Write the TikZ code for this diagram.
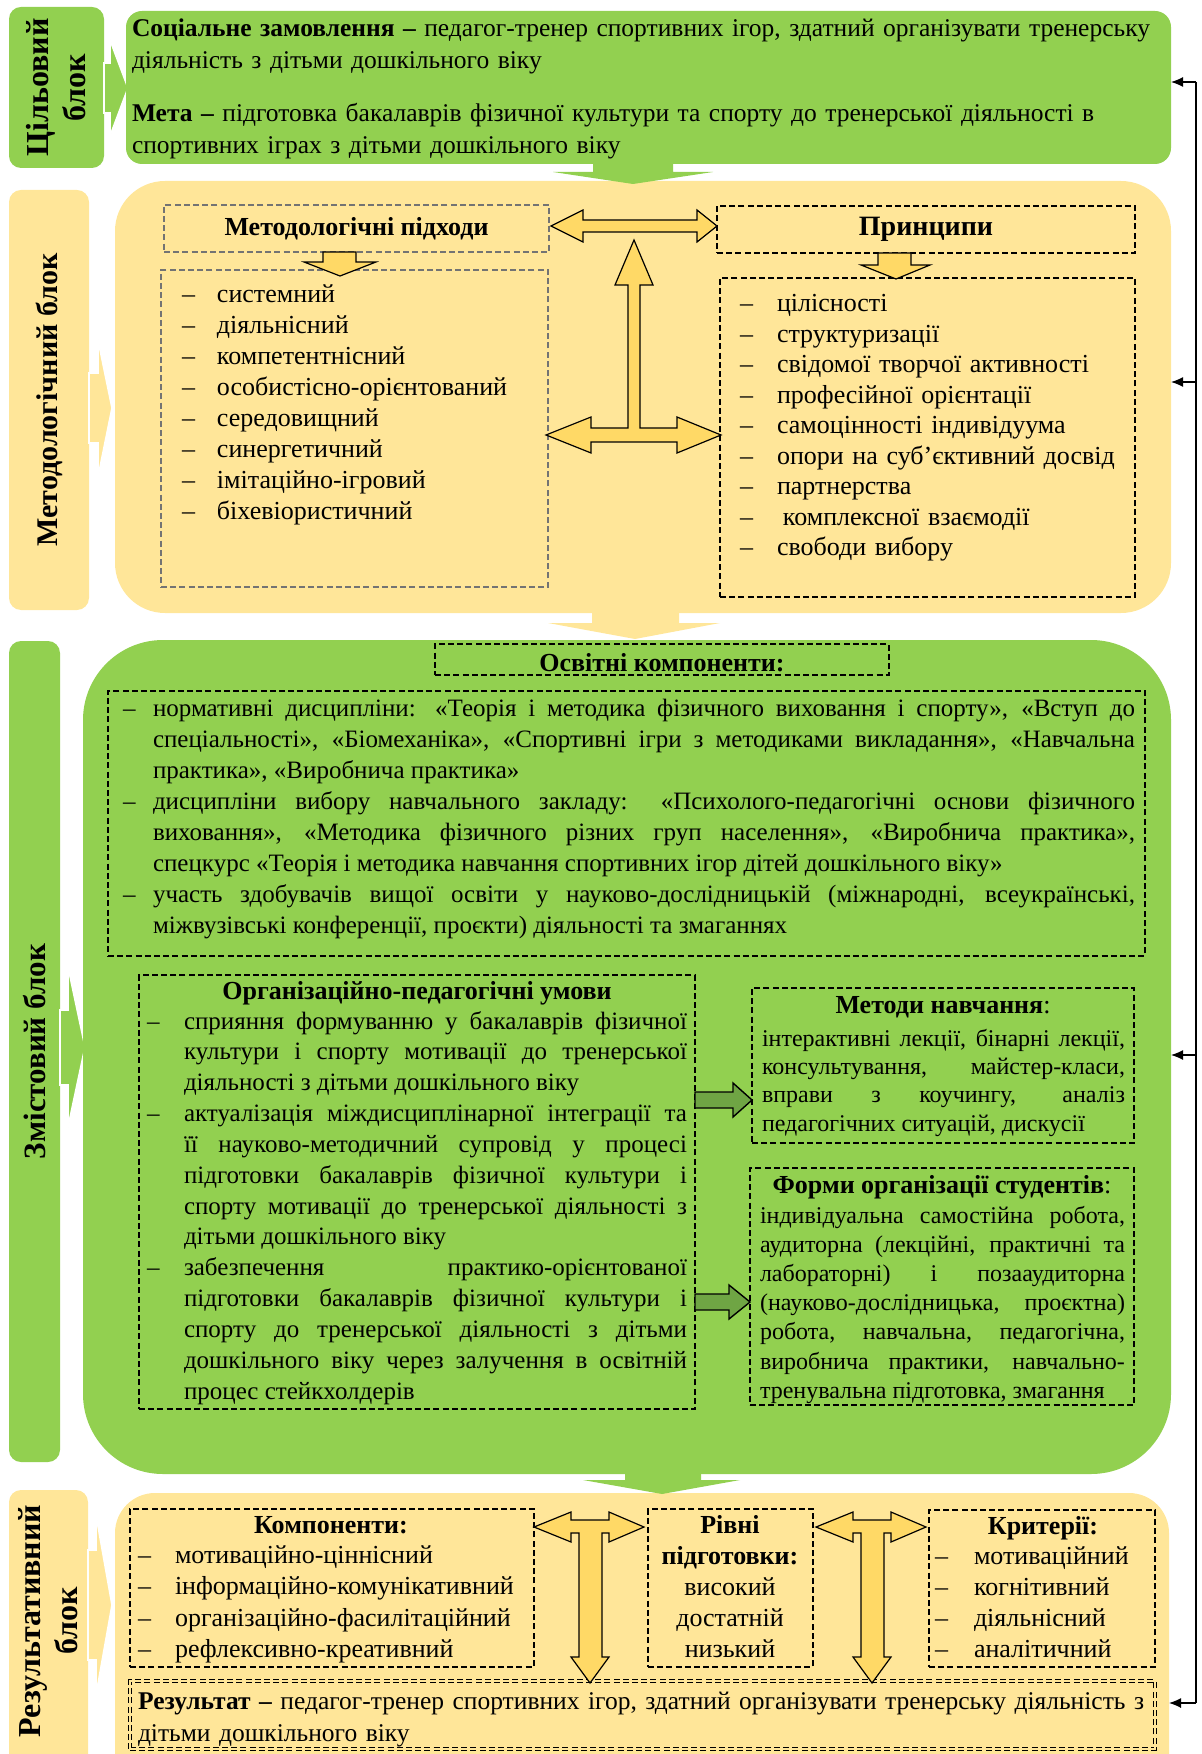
\documentclass[tikz,border=0pt]{standalone}
\usepackage{fontspec}
\setmainfont{Liberation Serif}
\usetikzlibrary{fit,arrows.meta,calc}
\definecolor{grn}{HTML}{92D050}
\definecolor{ylw}{HTML}{FFE699}
\definecolor{arry}{HTML}{FFD966}
\definecolor{dgrn}{HTML}{6FA544}
\newcommand\fsz[2]{\fontsize{#1}{#2}\selectfont}
\newcommand\dd[1]{\makebox[#1][l]{–}}
\newcommand\jst{\leftskip=0pt\relax\rightskip=0pt\relax\spaceskip=0pt\relax\xspaceskip=0pt\relax\parfillskip=0pt plus 1fil\relax}
\tolerance=10000
\hbadness=10000
\tikzset{
  panel/.style={inner sep=0pt, outer sep=0pt, draw=none},
  lbl/.style={panel, rounded corners=6pt},
  dbox/.style={draw=black, dash pattern=on 3pt off 1.6pt, line width=0.6pt, inner sep=0pt, outer sep=0pt},
  gbox/.style={dbox, draw=black!55},
  resbox/.style={dbox, line width=0.5pt, double=ylw, double distance=1.2pt},
  body/.style={inner sep=0pt, outer sep=0pt, anchor=base west, font=\fsz{13}{15.4}},
  ttl/.style={inner sep=0pt, outer sep=0pt, anchor=base, font=\bfseries\fsz{13}{15}},
  lbltxt/.style={inner sep=0pt, rotate=90, align=center, font=\bfseries\fsz{16}{18.5}},
  barrow/.style={fill=arry, draw=black, line width=0.6pt, line join=miter},
  garrow/.style={fill=dgrn, draw=black, line width=0.7pt, line join=miter},
  notch/.style={draw=white, line width=0.8pt},
  fb/.style={draw=black, line width=0.6pt},
  fbarr/.style={fb, -{Latex[length=6pt,width=5pt]}},
}
\begin{document}
\begin{tikzpicture}[x=0.5pt,y=-0.5pt]
\useasboundingbox (0,0) rectangle (1202,1754);
\clip (0,0) rectangle (1202,1754);

% ---------- left labels ----------
\node[lbl, fill=grn, fit={(9,7)(104,168)}] (L1) {};
\node[lbl, fill=ylw, fit={(9,190)(89,610)}] (L2) {};
\node[lbl, fill=grn, fit={(9,641)(60,1462)}] (L3) {};
\node[lbl, fill=ylw, fit={(9,1490)(88,1800)}] (L4) {};

% pale arrows from labels
\path[fill=grn, notch] (104,63) -- (110,63) -- (110,40) -- (128,88) -- (110,136) -- (110,113) -- (104,113) -- cycle;
\path[fill=ylw, notch] (89,373) -- (98,373) -- (98,340) -- (112,408) -- (98,477) -- (98,443) -- (89,443) -- cycle;
\path[fill=grn, notch] (60,1010) -- (68,1010) -- (68,967) -- (85,1047) -- (68,1127) -- (68,1085) -- (60,1085) -- cycle;
\path[fill=ylw, notch] (88,1550) -- (96,1550) -- (96,1515) -- (112,1605) -- (96,1695) -- (96,1660) -- (88,1660) -- cycle;

% ---------- main panels ----------
\node[panel, fill=grn, rounded corners=8pt, fit={(126,11)(1171,164)}] (goal) {};
\node[panel, fill=ylw, rounded corners=25pt, fit={(115,181)(1171,613)}] (meth) {};
\node[panel, fill=grn, rounded corners=40pt, fit={(83,640)(1171,1474)}] (cont) {};
\node[panel, fill=ylw, rounded corners=20pt, fit={(115,1493)(1169,1800)}] (res) {};

% down arrows between panels
\path[fill=grn] (593,160) -- (673,160) -- (673,172) -- (713,172) -- (633,184) -- (553,172) -- (593,172) -- cycle;
\path[fill=ylw] (592,611) -- (679,611) -- (679,623) -- (720,623) -- (635,639) -- (548,623) -- (592,623) -- cycle;
\path[fill=grn] (625,1470) -- (701,1470) -- (701,1480) -- (740,1480) -- (662,1494) -- (583,1480) -- (625,1480) -- cycle;

% ---------- goal block text ----------
\node[body, text width=540pt, align=left, font=\fsz{12.75}{16}] (t1) at (132,37)
 {\textbf{Соціальне замовлення –} педагог-тренер спортивних ігор, здатний організувати тренерську\\діяльність з дітьми дошкільного віку};
\node[body, text width=540pt, align=left, font=\fsz{12.75}{16}] (t2) at (132,122)
 {\textbf{Мета –} підготовка бакалаврів фізичної культури та спорту до тренерської діяльності в\\спортивних іграх з дітьми дошкільного віку};

% ---------- methodological block ----------
\node[gbox, fit={(164,205)(549,252)}] (apph) {};
\node[inner sep=0pt, font=\bfseries\fsz{13}{15}] (appht) at (apph.center) {Методологічні підходи};
\node[gbox, fit={(161,270)(548,587)}] (appl) {};
\node[dbox, fit={(717,206)(1135,253)}] (prh) {};
\node[inner sep=0pt, font=\bfseries\fsz{14}{15}] (prht) at (prh.center) {Принципи};
\node[dbox, fit={(720,278)(1135,597)}] (prl) {};

\path[barrow] (323,252) -- (356,252) -- (356,262) -- (376,262) -- (340,276) -- (304,262) -- (323,262) -- cycle;
\path[barrow] (878,253) -- (911,253) -- (911,265) -- (930,265) -- (896,279) -- (861,265) -- (878,265) -- cycle;

% double arrow between headers
\path[barrow] (551,226) -- (583,210) -- (583,220) -- (697,220) -- (697,210) -- (717,226) -- (697,242) -- (697,232) -- (583,232) -- (583,242) -- cycle;
% left-right-up arrow
\path[barrow] (546,435) -- (591,417) -- (591,428) -- (628,428) -- (628,285) -- (615,285) -- (634,240) -- (653,285) -- (640,285) -- (640,428) -- (677,428) -- (677,417) -- (721,435) -- (677,453) -- (677,442) -- (591,442) -- (591,453) -- cycle;

\node[body, text width=190pt, align=left, font=\fsz{13}{15.43}] (appt) at (182,303)
 {\dd{17.5pt}системний\\
  \dd{17.5pt}діяльнісний\\
  \dd{17.5pt}компетентнісний\\
  \dd{17.5pt}особистісно-орієнтований\\
  \dd{17.5pt}середовищний\\
  \dd{17.5pt}синергетичний\\
  \dd{17.5pt}імітаційно-ігровий\\
  \dd{17.5pt}біхевіористичний};
\node[body, text width=200pt, align=left, font=\fsz{13}{15.25}] (prt) at (740,312)
 {\dd{18.5pt}цілісності\\
  \dd{18.5pt}структуризації\\
  \dd{18.5pt}свідомої творчої активності\\
  \dd{18.5pt}професійної орієнтації\\
  \dd{18.5pt}самоцінності індивідуума\\
  \dd{18.5pt}опори на суб’єктивний досвід\\
  \dd{18.5pt}партнерства\\
  \dd{18.5pt}\hspace{3pt}комплексної взаємодії\\
  \dd{18.5pt}свободи вибору};

% ---------- content block ----------
\node[dbox, fit={(435,644)(889,675)}] (eduh) {};
\node[ttl] (eduht) at (662,671) {Освітні компоненти:};
\node[dbox, fit={(108,691)(1145,956)}] (edul) {};
\node[body, text width=506pt, font=\fsz{12.5}{15.5}] (edut) at (123,716)
 {\jst\hangindent=15pt\hangafter=1 \dd{15pt}нормативні дисципліни: «Теорія і методика фізичного виховання і спорту», «Вступ до\linebreak
  спеціальності», «Біомеханіка», «Спортивні ігри з методиками викладання», «Навчальна\linebreak
  практика», «Виробнича практика»\par
  \hangindent=15pt\hangafter=1 \dd{15pt}дисципліни вибору навчального закладу: «Психолого-педагогічні основи фізичного\linebreak
  виховання», «Методика фізичного різних груп населення», «Виробнича практика»,\linebreak
  спецкурс «Теорія і методика навчання спортивних ігор дітей дошкільного віку»\par
  \hangindent=15pt\hangafter=1 \dd{15pt}участь здобувачів вищої освіти у науково-дослідницькій (міжнародні, всеукраїнські,\linebreak
  міжвузівські конференції, проєкти) діяльності та змаганнях\par};

\node[dbox, fit={(139,975)(695,1409)}] (org) {};
\node[ttl] (orgh) at (417,999) {Організаційно-педагогічні умови};
\node[body, text width=270pt, font=\fsz{12.5}{15.42}] (orgt) at (147,1029)
 {\jst\hangindent=18.5pt\hangafter=1 \dd{18.5pt}сприяння формуванню у бакалаврів фізичної\linebreak
  культури і спорту мотивації до тренерської\linebreak
  діяльності з дітьми дошкільного віку\par
  \hangindent=18.5pt\hangafter=1 \dd{18.5pt}актуалізація міждисциплінарної інтеграції та\linebreak
  її науково-методичний супровід у процесі\linebreak
  підготовки бакалаврів фізичної культури і\linebreak
  спорту мотивації до тренерської діяльності з\linebreak
  дітьми дошкільного віку\par
  \hangindent=18.5pt\hangafter=1 \dd{18.5pt}забезпечення практико-орієнтованої\linebreak
  підготовки бакалаврів фізичної культури і\linebreak
  спорту до тренерської діяльності з дітьми\linebreak
  дошкільного віку через залучення в освітній\linebreak
  процес стейкхолдерів\par};

\node[dbox, fit={(752,988)(1134,1143)}] (mtd) {};
\node[ttl, font=\fsz{13}{15}] (mtdh) at (943,1013) {\textbf{Методи навчання}:};
\node[body, text width=181.5pt, font=\fsz{12}{14.2}] (mtdt) at (762,1046)
 {\jst інтерактивні лекції, бінарні лекції,\linebreak
  консультування, майстер-класи,\linebreak
  вправи з коучингу, аналіз\linebreak
  педагогічних ситуацій, дискусії\par};

\node[dbox, fit={(750,1168)(1134,1405)}] (frm) {};
\node[ttl, font=\fsz{13}{15}] (frmh) at (942,1193) {\textbf{Форми організації студентів}:};
\node[body, text width=182.5pt, font=\fsz{12}{14.6}] (frmt) at (760,1223)
 {\jst індивідуальна самостійна робота,\linebreak
  аудиторна (лекційні, практичні та\linebreak
  лабораторні) і позааудиторна\linebreak
  (науково-дослідницька, проєктна)\linebreak
  робота, навчальна, педагогічна,\linebreak
  виробнича практики, навчально-\linebreak
  тренувальна підготовка, змагання\par};

\path[garrow] (org.east |- 0,1092) -- (733,1092) -- (733,1083) -- (mtd.west |- 0,1100) -- (733,1117) -- (733,1108) -- (org.east |- 0,1108) -- cycle;
\path[garrow] (org.east |- 0,1294) -- (729,1294) -- (729,1285) -- (frm.west |- 0,1302) -- (729,1319) -- (729,1310) -- (org.east |- 0,1310) -- cycle;

% ---------- result block ----------
\node[dbox, fit={(130,1509)(534,1667)}] (cmp) {};
\node[dbox, fit={(648,1509)(813,1667)}] (lvl) {};
\node[dbox, fit={(929,1510)(1155,1667)}] (crt) {};
\node[resbox, fit={(130,1681)(1155,1749)}] (rslt) {};

\path[barrow] (534,1527) -- (571,1512) -- (571,1520) -- (609,1520) -- (609,1512) -- (644,1527) -- (609,1542) -- (609,1533) -- (602,1533) -- (602,1657) -- (609,1657) -- (590,1683) -- (571,1657) -- (579,1657) -- (579,1533) -- (571,1533) -- (571,1542) -- cycle;
\path[barrow] (816,1527) -- (853,1512) -- (853,1520) -- (891,1520) -- (891,1512) -- (926,1527) -- (891,1542) -- (891,1533) -- (884,1533) -- (884,1657) -- (891,1657) -- (872,1683) -- (853,1657) -- (861,1657) -- (861,1533) -- (853,1533) -- (853,1542) -- cycle;

\node[ttl] (cmph) at (331,1533) {Компоненти:};
\node[body, text width=190pt, align=left, font=\fsz{13}{15.83}] (cmpt) at (138,1563)
 {\dd{18.5pt}мотиваційно-ціннісний\\
  \dd{18.5pt}інформаційно-комунікативний\\
  \dd{18.5pt}організаційно-фасилітаційний\\
  \dd{18.5pt}рефлексивно-креативний};
\node[inner sep=0pt, anchor=base, text width=80pt, align=center, font=\fsz{13}{15.6}] (lvlt) at (730,1533)
 {\textbf{Рівні}\\\textbf{підготовки:}\\високий\\достатній\\низький};
\node[ttl] (crth) at (1043,1534) {Критерії:};
\node[body, text width=110pt, align=left, font=\fsz{13}{15.6}] (crtt) at (935,1564)
 {\dd{19.5pt}мотиваційний\\
  \dd{19.5pt}когнітивний\\
  \dd{19.5pt}діяльнісний\\
  \dd{19.5pt}аналітичний};
\node[body, text width=540pt, align=left, font=\fsz{12.75}{16}] (rsltt) at (138,1709)
 {\textbf{Результат –} педагог-тренер спортивних ігор, здатний організувати тренерську діяльність з\\дітьми дошкільного віку};

% ---------- label texts ----------
\node[lbltxt] (L1t) at (L1.center) {Цільовий\\блок};
\node[lbltxt, font=\bfseries\fsz{15}{18}] (L2t) at (L2.center) {Методологічний блок};
\node[lbltxt, font=\bfseries\fsz{15.5}{18}] (L3t) at (L3.center) {Змістовий блок};
\node[lbltxt] (L4t) at (48.5,1621) {Результативний\\блок};

% ---------- feedback line ----------
\coordinate (f1) at (1196,82);
\coordinate (f2) at (1196,382);
\coordinate (f3) at (1196,1055);
\coordinate (f4) at (1196,1703);
\draw[fb] (f1) -- (f4);
\draw[fbarr] (f1) -- (goal.east |- f1);
\draw[fbarr] (f2) -- (meth.east |- f2);
\draw[fbarr] (f3) -- (cont.east |- f3);
\draw[fbarr] (f4) -- (res.east |- f4);
\end{tikzpicture}
\end{document}
